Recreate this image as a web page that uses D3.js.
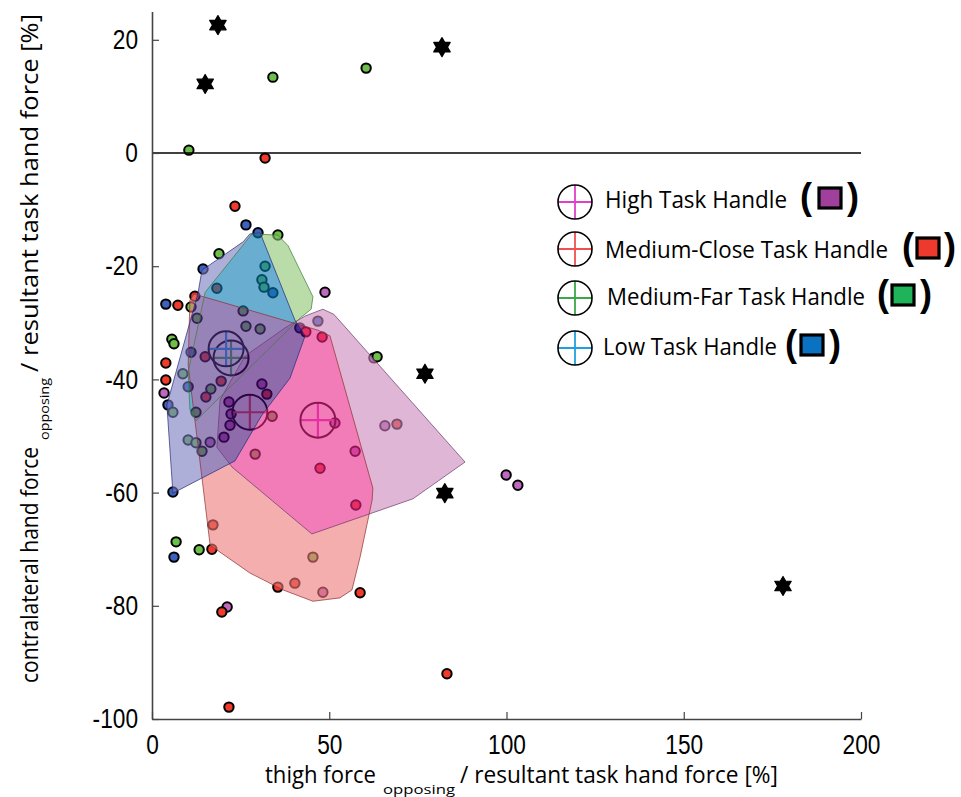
<!DOCTYPE html>
<html><head><meta charset="utf-8">
<script src="https://cdn.jsdelivr.net/npm/d3@7"></script>
<style>body{margin:0;background:#fff} svg{display:block}</style>
</head><body>
<svg id="chart" width="961" height="797"></svg>
<script>
// ---------------- DATA ----------------
const groupNames = ["High Task Handle","Medium-Close Task Handle","Medium-Far Task Handle","Low Task Handle"];
const xTicks = [0,50,100,150,200];
const xTickLabels = ["0","50","100","150","200"];
const yTicks = [20,0,-20,-40,-60,-80,-100];
const yTickLabels = ["20","0","-20","-40","-60","-80","-100"];

// subject points per task handle [x, y]
const highPts = [[48.8,-24.6],[3.4,-42.4],[21.7,-44.0],[22.3,-46.1],[22.0,-48.1],[20.3,-50.2],[16.4,-51.1],[31.0,-40.8],[48.2,-77.6],[57.3,-52.7],[51.6,-47.7],[21.2,-80.2],[62.6,-36.2],[65.7,-48.2],[99.9,-56.9],[103.2,-58.7]];
const lowPts = [[26.5,-12.7],[29.9,-14.1],[14.4,-20.5],[34.1,-24.7],[3.9,-26.7],[41.7,-30.9],[46.8,-29.7],[11.0,-35.2],[10.2,-41.3],[4.5,-44.5],[5.9,-59.9],[6.2,-71.4]];
const farPts = [[10.4,0.5],[34.1,13.4],[60.4,15.0],[35.5,-14.5],[18.9,-17.8],[31.9,-20.0],[31.0,-22.4],[31.6,-23.7],[11.0,-27.2],[12.7,-29.2],[25.7,-27.9],[26.5,-30.6],[30.5,-31.1],[5.6,-32.9],[6.2,-33.7],[8.7,-39.0],[16.6,-41.7],[5.9,-45.8],[12.4,-45.8],[33.9,-46.5],[29.1,-53.2],[10.2,-50.7],[12.4,-51.2],[14.1,-52.7],[6.8,-68.7],[13.3,-70.1],[45.4,-71.4],[63.5,-36.0]];
const closePts = [[31.9,-0.9],[23.4,-9.4],[18.3,-23.9],[7.3,-26.9],[12.1,-25.3],[43.4,-31.6],[48.0,-32.5],[15.0,-36.0],[3.9,-37.1],[3.9,-40.1],[19.5,-40.3],[15.2,-43.1],[32.4,-42.6],[17.2,-65.7],[16.9,-70.0],[35.5,-76.7],[40.3,-76.0],[58.7,-77.7],[47.4,-55.7],[57.5,-62.2],[19.7,-81.1],[21.7,-97.9],[83.2,-92.0],[69.1,-47.9]];

// outliers (stars)
const outlierX = [18.6,15.0,81.8,77.0,82.6,178.0];
const outlierY = [22.6,12.2,18.7,-39.0,-60.1,-76.5];

// group means: High, Medium-Close, Medium-Far, Low
const meanX = [46.8,27.6,22.3,20.9];
const meanY = [-47.2,-45.8,-36.2,-34.6];

// hull outlines
const highHull = [[48.2,-27.6],[51.3,-28.5],[88.3,-54.6],[73.6,-61.1],[45.1,-67.3],[22.6,-55.5],[18.3,-52.0],[19.2,-43.6],[26.2,-35.9],[37.5,-30.9],[43.2,-28.8]];
const closeHull = [[10.7,-26.0],[11.8,-24.9],[46.8,-31.3],[50.2,-32.3],[62.3,-59.2],[62.1,-61.3],[58.7,-71.4],[56.4,-77.2],[53.0,-78.6],[45.4,-79.2],[37.0,-77.2],[27.6,-74.2],[16.4,-69.3],[14.1,-57.4],[10.2,-37.5]];
const farHull = [[28.2,-14.3],[35.5,-14.5],[38.4,-16.4],[45.4,-25.4],[44.9,-27.6],[41.7,-29.2],[12.4,-47.3],[10.7,-45.4],[10.2,-38.7],[15.0,-24.6]];
const lowHull = [[27.6,-14.3],[30.5,-14.1],[40.3,-29.5],[43.2,-32.3],[38.9,-39.8],[31.0,-46.3],[23.4,-54.4],[5.9,-60.1],[4.2,-44.5],[13.0,-24.7],[14.1,-20.7],[25.7,-15.7]];

// ---------------- STYLE ----------------
const ptColor = {H:"#c068c0", R:"#f03a2a", G:"#6cc04a", B:"#3c62c0"};
const crossColor = ["#e040c8","#f05050","#3aa848","#1ea0e0"];
const squareColor = ["#a0409c","#ee3a2e","#1fb35a","#0a72c0"];
const hullAlpha = 0.6;
const regions = [
  ["H",[], "rgb(202,135,187)"],
  ["R",[], "rgb(238,122,122)"],
  ["G",[], "rgb(140,197,113)"],
  ["B",[], "rgb(120,123,192)"],
  ["G",["H"], "rgb(180,130,180)"],
  ["G",["R"], "rgb(217,80,80)"],
  ["R",["H"], "rgb(232,38,136)"],
  ["B",["H"], "rgb(95,35,150)"],
  ["B",["G"], "rgb(7,120,177)"],
  ["B",["R"], "rgb(92,60,145)"],
  ["G",["R","H"], "rgb(222,38,97)"],
  ["B",["G","R"], "rgb(85,50,140)"],
  ["B",["R","H"], "rgb(72,10,118)"]
];
const hullStroke = {H:"#6a3a68", R:"#8a3030", G:"#3f7a38", B:"#2a2a78"};

// ---------------- DRAW ----------------
const svg = d3.select("#chart");
const x = d3.scaleLinear().domain([0,200]).range([152,861]);
const y = d3.scaleLinear().domain([-100,25]).range([719,11.5]);
const hulls = {H:highHull, R:closeHull, G:farHull, B:lowHull};
const line = d3.line().x(d=>x(d[0])).y(d=>y(d[1])).curve(d3.curveLinearClosed);

const defs = svg.append("defs");
Object.keys(hulls).forEach(k=>{
  defs.append("clipPath").attr("id","clip-"+k).append("path").attr("d", line(hulls[k]));
});

// points (under hulls)
const ptLayer = svg.append("g");
const ptSets = [["H",highPts],["B",lowPts],["G",farPts],["R",closePts]];
ptSets.forEach(([k,arr])=>{
  ptLayer.selectAll(null).data(arr).enter().append("circle")
    .attr("cx",d=>x(d[0])).attr("cy",d=>y(d[1])).attr("r",4.7)
    .attr("fill",ptColor[k]).attr("stroke","#000").attr("stroke-width",2);
});

// group means
const meanLayer = svg.append("g");
const meanOrder = [2,3,1,0];
meanOrder.forEach(i=>{
  const cx = x(meanX[i]), cy = y(meanY[i]), r = 17.5;
  meanLayer.append("line").attr("x1",cx-r).attr("x2",cx+r).attr("y1",cy).attr("y2",cy).attr("stroke",crossColor[i]).attr("stroke-width",2.2);
  meanLayer.append("line").attr("x1",cx).attr("x2",cx).attr("y1",cy-r).attr("y2",cy+r).attr("stroke",crossColor[i]).attr("stroke-width",2.2);
  meanLayer.append("circle").attr("cx",cx).attr("cy",cy).attr("r",r).attr("fill","none").attr("stroke","#000").attr("stroke-width",2);
});

// hull regions
const hullLayer = svg.append("g").attr("opacity",hullAlpha);
regions.forEach(([k,clips,col])=>{
  let parent = hullLayer;
  clips.forEach(c=>{ parent = parent.append("g").attr("clip-path",`url(#clip-${c})`); });
  parent.append("path").attr("d", line(hulls[k])).attr("fill", col);
});
const outlineLayer = svg.append("g");
Object.keys(hulls).forEach(k=>{
  outlineLayer.append("path").attr("d", line(hulls[k])).attr("fill","none")
    .attr("stroke",hullStroke[k]).attr("stroke-width",1).attr("stroke-opacity",0.7).attr("stroke-linejoin","round");
});

// zero line
svg.append("line").attr("x1",x(0)).attr("x2",x(200)).attr("y1",y(0)).attr("y2",y(0))
  .attr("stroke","#000").attr("stroke-width",1.3);

// outlier stars
const hexagram = { draw(ctx, size){
  const R = Math.sqrt(size), r = R/Math.sqrt(3);
  for (let i=0;i<12;i++){
    const a = -Math.PI/2 + i*Math.PI/6, rad = i%2===0?R:r;
    const px = rad*Math.cos(a), py = rad*Math.sin(a);
    if(i===0) ctx.moveTo(px,py); else ctx.lineTo(px,py);
  }
  ctx.closePath();
}};
svg.append("g").selectAll(null).data(outlierX).enter().append("path")
  .attr("d", d3.symbol().type(hexagram).size(9.5*9.5))
  .attr("transform",(d,i)=>`translate(${x(d)},${y(outlierY[i])})`)
  .attr("fill","#000").attr("stroke","#000").attr("stroke-width",1.2).attr("stroke-linejoin","round");

// axes
const tickFont = "'Liberation Sans',Arial,sans-serif";
const yAxis = svg.append("g").attr("transform",`translate(${x(0)},0)`)
  .call(d3.axisLeft(y).tickValues(yTicks).tickSize(-7).tickSizeOuter(0).tickPadding(14)
    .tickFormat((d,i)=>yTickLabels[i]));
const xAxis = svg.append("g").attr("transform",`translate(0,${y(-100)})`)
  .call(d3.axisBottom(x).tickValues(xTicks).tickSize(-7).tickSizeOuter(0).tickPadding(16)
    .tickFormat((d,i)=>xTickLabels[i]));
[xAxis,yAxis].forEach(a=>{
  a.select(".domain").attr("stroke","#444").attr("stroke-width",1.6);
  a.selectAll(".tick line").attr("stroke","#444").attr("stroke-width",1.2);
  a.selectAll(".tick text").attr("fill","#000").style("font-family",tickFont).style("font-size","27px")
    .each(function(){ const w = this.getComputedTextLength();
      d3.select(this).attr("textLength", w*0.84).attr("lengthAdjust","spacingAndGlyphs"); });
});

// axis titles
const labFont = "'Open Sans','Noto Sans',sans-serif";
function fitText(g, str, px, py, size, len, rotate){
  const t = g.append("text").attr("x",px).attr("y",py).text(str)
    .style("font-family",labFont).style("font-size",size+"px").attr("fill","#000")
    .attr("textLength",len).attr("lengthAdjust","spacingAndGlyphs");
  if(rotate) t.attr("transform",`rotate(-90,${px},${py})`);
  return t;
}
const titles = svg.append("g");
fitText(titles,"thigh force",265,783,23,111,false);
fitText(titles,"opposing",383,794,13,72,false);
fitText(titles,"/ resultant task hand force [%]",460,783,23,318,false);
fitText(titles,"contralateral hand force",38,683,23,236,true);
fitText(titles,"opposing",49,440,13,62,true);
fitText(titles,"/ resultant task hand force [%]",38,372,23,358,true);

// legend
const lg = svg.append("g");
const lgCy = [202,249,298,348];
const lgTextX = [605,605,607,603], lgBase = [208,258,305,355], lgW = [182,283,258,174];
const lgParL = [800,902,877,785], lgSqX = [819,917,892,801], lgParR = [847,944,920,829];
groupNames.forEach((name,i)=>{
  const cx = 575, cy = lgCy[i], r = 17;
  lg.append("line").attr("x1",cx-r).attr("x2",cx+r).attr("y1",cy).attr("y2",cy).attr("stroke",crossColor[i]).attr("stroke-width",1.8);
  lg.append("line").attr("x1",cx).attr("x2",cx).attr("y1",cy-r).attr("y2",cy+r).attr("stroke",crossColor[i]).attr("stroke-width",1.8);
  lg.append("circle").attr("cx",cx).attr("cy",cy).attr("r",r).attr("fill","none").attr("stroke","#000").attr("stroke-width",1.6);
  fitText(lg,name,lgTextX[i],lgBase[i],23,lgW[i],false);
  const pb = lgBase[i]+1;
  lg.append("text").attr("x",lgParL[i]).attr("y",pb).text("(").style("font-family","'Liberation Sans',sans-serif").style("font-weight","bold").style("font-size","36px");
  lg.append("rect").attr("x",lgSqX[i]).attr("y",lgBase[i]-20).attr("width",22).attr("height",20)
    .attr("fill",squareColor[i]).attr("stroke","#000").attr("stroke-width",3.2);
  lg.append("text").attr("x",lgParR[i]).attr("y",pb).text(")").style("font-family","'Liberation Sans',sans-serif").style("font-weight","bold").style("font-size","36px");
});
</script>
</body></html>
